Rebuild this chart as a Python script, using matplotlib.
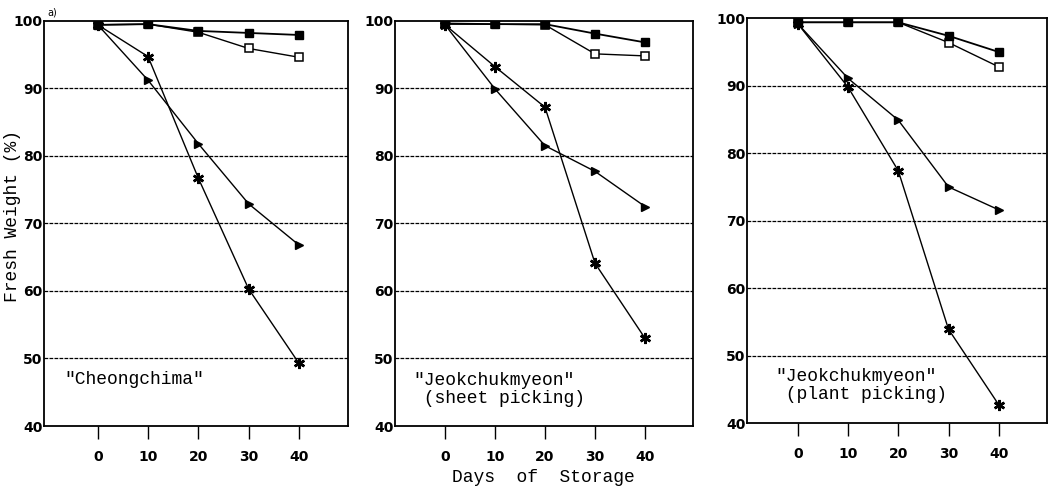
import numpy as np
import matplotlib
matplotlib.use("Agg")
import matplotlib.pyplot as plt

# ----------------------------
# Data
# ----------------------------
days = [0, 10, 20, 30, 40]

# panel a: "Cheongchima"
p1_filled = [99.4, 99.5, 98.5, 98.2, 97.9]
p1_open = [99.4, 99.5, 98.3, 95.9, 94.6]
p1_tri = [99.4, 91.2, 81.8, 72.9, 66.8]
p1_star = [99.4, 94.7, 76.7, 60.3, 49.3]

# panel b: "Jeokchukmyeon" (sheet picking)
p2_filled = [99.6, 99.5, 99.5, 98.1, 96.8]
p2_open = [99.5, 99.5, 99.4, 95.1, 94.8]
p2_tri = [99.4, 89.9, 81.5, 77.7, 72.5]
p2_star = [99.4, 93.2, 87.2, 64.1, 53.0]

# panel c: "Jeokchukmyeon" (plant picking)
p3_filled = [99.4, 99.4, 99.4, 97.4, 95.0]
p3_open = [99.4, 99.4, 99.4, 96.4, 92.8]
p3_tri = [99.2, 91.1, 84.9, 75.0, 71.6]
p3_star = [99.2, 89.8, 77.4, 53.9, 42.7]

panel_labels = ['"Cheongchima"',
                '"Jeokchukmyeon"\n (sheet picking)',
                '"Jeokchukmyeon"\n (plant picking)']
yticks = [40, 50, 60, 70, 80, 90, 100]
grid_lines = [50, 60, 70, 80, 90]

mono = "Liberation Mono"
narrow = ["DejaVu Sans Condensed", "Liberation Sans Narrow", "DejaVu Sans"]

fig = plt.figure(figsize=(10.49, 4.9), dpi=100)

positions = [
    [0.0419, 0.1306, 0.290, 0.827],
    [0.3766, 0.1306, 0.284, 0.827],
    [0.7121, 0.1367, 0.286, 0.826],
]
xlims = [(-10.7, 49.8), (-10.0, 49.6), (-10.1, 49.6)]
label_pos = [(-6.7, 46.9), (-6.4, 45.4), (-4.5, 45.6)]

series = [
    (p1_filled, p1_open, p1_tri, p1_star),
    (p2_filled, p2_open, p2_tri, p2_star),
    (p3_filled, p3_open, p3_tri, p3_star),
]

for i, (pos, (filled, opn, tri, star)) in enumerate(zip(positions, series)):
    ax = fig.add_axes(pos)

    for g in grid_lines:
        ax.axhline(g, color="black", lw=0.9, ls=(0, (3, 1)), zorder=1)

    ax.plot(days, tri, color="black", lw=1.0, marker=">", ms=5.5,
            mfc="black", mec="black", zorder=3)
    ax.plot(days, star, color="black", lw=1.0, marker=(6, 2, 0), ms=8,
            mew=1.8, mec="black", zorder=3)
    ax.plot(days, opn, color="black", lw=1.0, marker="s", ms=6,
            mfc="white", mec="black", mew=1.1, zorder=4)
    ax.plot(days, filled, color="black", lw=1.3, marker="s", ms=6,
            mfc="black", mec="black", zorder=5)

    ax.set_xlim(*xlims[i])
    ax.set_ylim(40, 100)
    ax.set_xticks(days)
    ax.set_yticks(yticks)
    ax.set_xticklabels([str(d) for d in days], family=narrow, fontsize=10,
                       weight="bold")
    ax.set_yticklabels([str(t) for t in yticks], family=narrow, fontsize=10,
                       weight="bold")
    ax.tick_params(axis="x", direction="out", length=9, width=1.0, pad=8)
    ax.tick_params(axis="y", length=0, pad=1)
    for s in ax.spines.values():
        s.set_linewidth(1.3)

    ax.text(label_pos[i][0], label_pos[i][1], panel_labels[i],
            family=mono, fontsize=13, ha="left", va="center",
            linespacing=1.05)

fig.text(0.045, 0.985, "a)", family=narrow, fontsize=7, ha="left", va="top")
fig.text(0.012, 0.56, "Fresh Weight (%)", family=mono, fontsize=13,
         rotation=90, ha="center", va="center")
fig.text(0.518, 0.025, "Days  of  Storage", family=mono, fontsize=13,
         ha="center", va="center")

fig.savefig("out.png", dpi=100)
